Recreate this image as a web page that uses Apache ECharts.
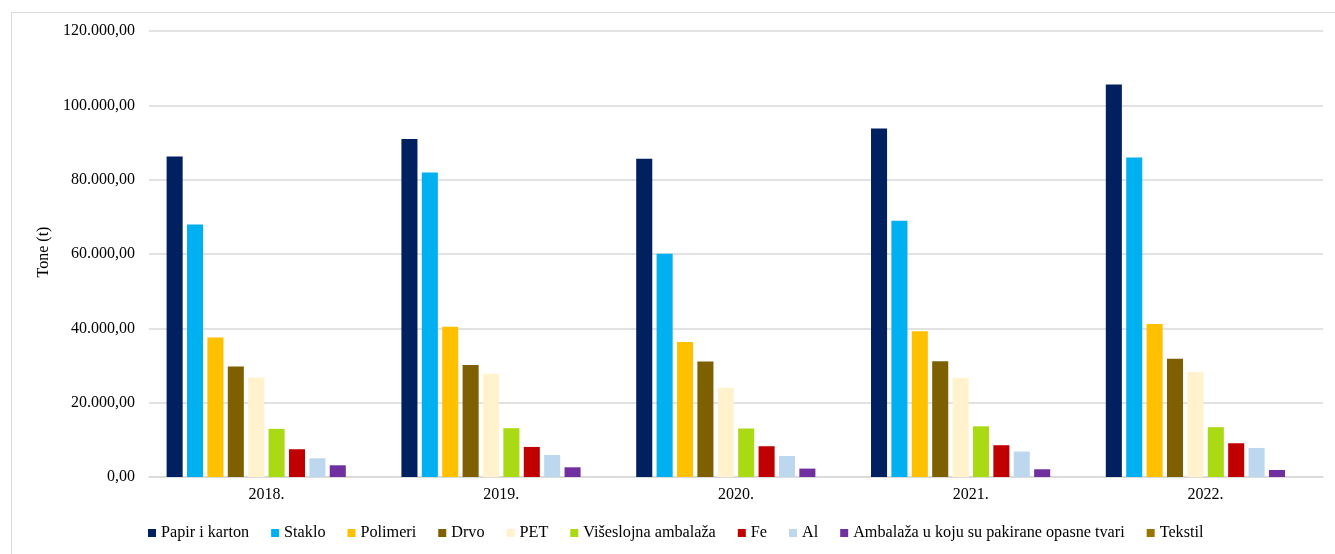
<!DOCTYPE html>
<html>
<head>
<meta charset="utf-8">
<script src="https://cdn.jsdelivr.net/npm/echarts@6/dist/echarts.min.js"></script>
<style>
  html, body { margin: 0; padding: 0; background: #fff; }
  #chart { width: 1335px; height: 554px; }
</style>
</head>
<body>
<div id="chart"></div>
<script>
const years = ['2018.', '2019.', '2020.', '2021.', '2022.']
const seriesNames = [
  'Papir i karton', 'Staklo', 'Polimeri', 'Drvo', 'PET',
  'Višeslojna ambalaža', 'Fe', 'Al', 'Ambalaža u koju su pakirane opasne tvari', 'Tekstil'
]
const colors = [
  '#002060', '#00B0F0', '#FFC000', '#7F6000', '#FFF2CC',
  '#A9DA14', '#C00000', '#BDD7EE', '#7030A0', '#997300'
]

// tone po godinama (2018.-2022.)
const papir = [86200, 90950, 85600, 93770, 105600]
const staklo = [67950, 81900, 60050, 68950, 85950]
const polimeri = [37550, 40450, 36330, 39200, 41150]
const drvo = [29750, 30120, 31100, 31120, 31800]
const pet = [26780, 27780, 24000, 26700, 28230]
const viseslojna = [12950, 13130, 13050, 13650, 13400]
const fe = [7470, 8090, 8280, 8550, 9080]
const al = [5040, 5930, 5660, 6850, 7820]
const opasne = [3150, 2610, 2260, 2080, 1890]
const tekstil = [0, 0, 0, 0, 0]

const values = [papir, staklo, polimeri, drvo, pet, viseslojna, fe, al, opasne, tekstil]

const font = 'Liberation Serif'

function fmt(v) {
  return String(v).replace(/\B(?=(\d{3})+(?!\d))/g, '.') + ',00'
}

const chart = echarts.init(document.getElementById('chart'))

const option = {
  animation: false,
  backgroundColor: '#fff',
  textStyle: { fontFamily: font },
  graphic: [{
    type: 'rect',
    left: 9,
    top: 10,
    shape: { width: 1324, height: 542 },
    style: { fill: 'none', stroke: '#d9d9d9', lineWidth: 1 },
    silent: true
  }],
  grid: { left: 149, right: 12, top: 31, bottom: 77 },
  legend: {
    left: 143,
    top: 520,
    itemWidth: 8,
    itemHeight: 8,
    itemGap: 22,
    icon: 'rect',
    textStyle: { fontFamily: font, fontSize: 16.2, color: '#000' },
    data: seriesNames
  },
  xAxis: {
    type: 'category',
    data: years,
    axisLine: { lineStyle: { color: '#d9d9d9', width: 1.5 } },
    axisTick: { show: false },
    axisLabel: { fontFamily: font, fontSize: 16, color: '#000', margin: 10 }
  },
  yAxis: {
    type: 'value',
    min: 0,
    max: 120000,
    interval: 20000,
    name: 'Tone (t)',
    nameLocation: 'middle',
    nameGap: 92,
    nameTextStyle: { fontFamily: font, fontSize: 16, color: '#000', padding: [0, 0, 0, 4] },
    axisLine: { show: false },
    axisTick: { show: false },
    splitLine: { lineStyle: { color: '#d9d9d9', width: 1.5 } },
    axisLabel: { fontFamily: font, fontSize: 16, color: '#000', margin: 14, formatter: fmt }
  },
  series: seriesNames.map((name, i) => ({
    name,
    type: 'bar',
    data: values[i],
    barGap: '27%',
    barCategoryGap: '15%',
    itemStyle: { color: colors[i] }
  }))
}

chart.setOption(option)
</script>
</body>
</html>
